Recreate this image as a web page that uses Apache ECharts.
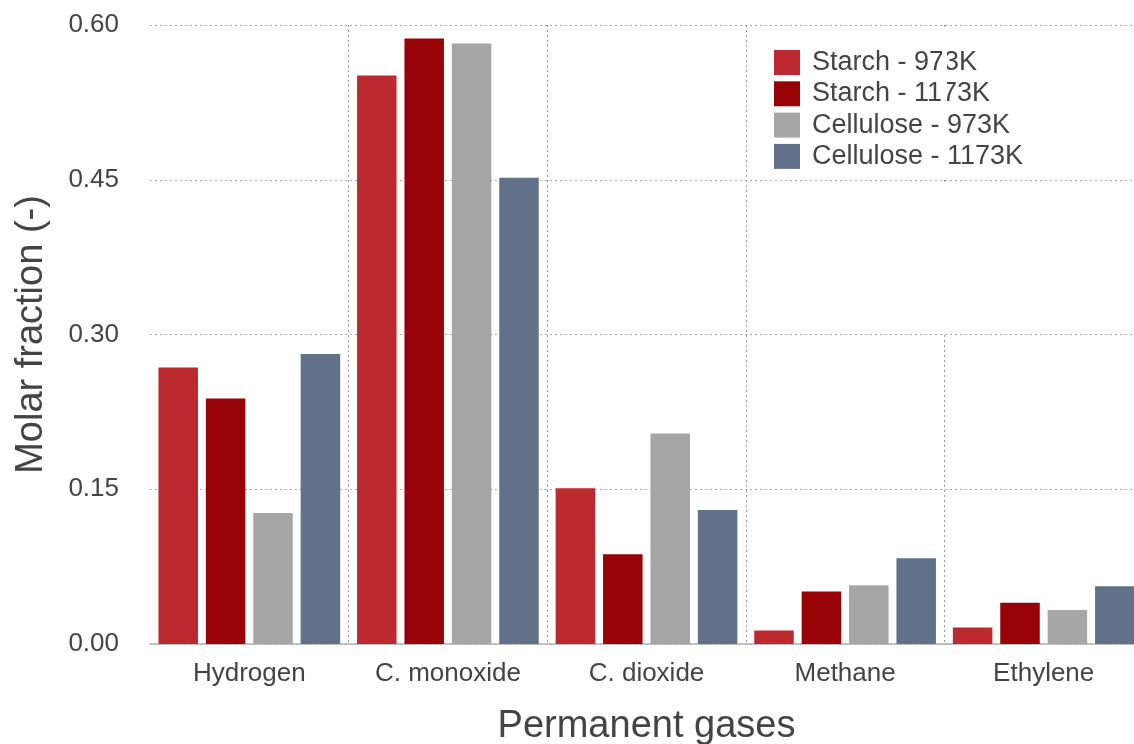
<!DOCTYPE html>
<html>
<head>
<meta charset="utf-8">
<script src="https://cdn.jsdelivr.net/npm/echarts@6/dist/echarts.min.js"></script>
<style>
html,body{margin:0;padding:0;background:#fff;overflow:hidden;}
#chart{width:1134px;height:744px;}
</style>
</head>
<body>
<div id="chart"></div>
<script>
const categories = ['Hydrogen', 'C. monoxide', 'C. dioxide', 'Methane', 'Ethylene'];
const seriesNames = ['Starch - 973K', 'Starch - 1173K', 'Cellulose - 973K', 'Cellulose - 1173K'];
const starch973 = [0.268, 0.551, 0.151, 0.013, 0.016];
const starch1173 = [0.238, 0.587, 0.087, 0.051, 0.040];
const cellulose973 = [0.127, 0.582, 0.204, 0.057, 0.033];
const cellulose1173 = [0.281, 0.452, 0.130, 0.083, 0.056];
const colors = ['#BC2A30', '#970306', '#A6A6A6', '#62718A'];
const yTicks = [0, 0.15, 0.30, 0.45, 0.60];

const FONT = '"Liberation Sans", Arial, Helvetica, sans-serif';
const chart = echarts.init(document.getElementById('chart'), null, {renderer: 'canvas'});
const allData = [starch973, starch1173, cellulose973, cellulose1173];

chart.setOption({
  animation: false,
  backgroundColor: '#fff',
  color: colors,
  textStyle: {fontFamily: FONT},
  grid: {left: 150, top: 25, width: 993, height: 619, containLabel: false, outerBoundsMode: 'none'},
  legend: {
    left: 769, top: 44, orient: 'vertical',
    itemWidth: 26, itemHeight: 25, itemGap: 4.3,
    icon: 'rect',
    textStyle: {fontSize: 27, color: '#444', fontFamily: FONT, padding: [0, 0, 0, 7]},
    data: seriesNames
  },
  graphic: [
    {type: 'rect', shape: {x: 942, y: 27, width: 5, height: 151}, style: {fill: '#fff'}, z: 10},
    {type: 'rect', shape: {x: 942, y: 182, width: 5, height: 150}, style: {fill: '#fff'}, z: 10}
  ],
  xAxis: {
    type: 'category',
    data: categories,
    name: 'Permanent gases',
    nameLocation: 'middle',
    nameGap: 64,
    nameTextStyle: {fontSize: 38, color: '#444', fontFamily: FONT},
    axisLine: {show: true, lineStyle: {color: '#b3b3b3', width: 1.5}},
    axisTick: {show: false},
    axisLabel: {fontSize: 26, color: '#444', margin: 17, fontFamily: FONT},
    splitLine: {show: true, interval: function (i) { return i > 0; }, lineStyle: {color: '#999', type: [2, 3], width: 1}}
  },
  yAxis: {
    type: 'value',
    min: yTicks[0], max: yTicks[yTicks.length - 1], interval: 0.15,
    name: 'Molar fraction (-)',
    nameLocation: 'middle',
    nameGap: 99,
    nameTextStyle: {fontSize: 38, color: '#444', fontFamily: FONT},
    axisLine: {show: false},
    axisTick: {show: false},
    axisLabel: {fontSize: 26, color: '#444', margin: 31, fontFamily: FONT, formatter: v => v.toFixed(2)},
    splitLine: {show: true, lineStyle: {color: '#aaa', type: [2, 3], width: 1}}
  },
  series: seriesNames.map((n, i) => ({
    name: n,
    type: 'bar',
    data: allData[i],
    barWidth: 39.5,
    barGap: '20%',
    itemStyle: {color: colors[i]}
  }))
});
</script>
</body>
</html>
